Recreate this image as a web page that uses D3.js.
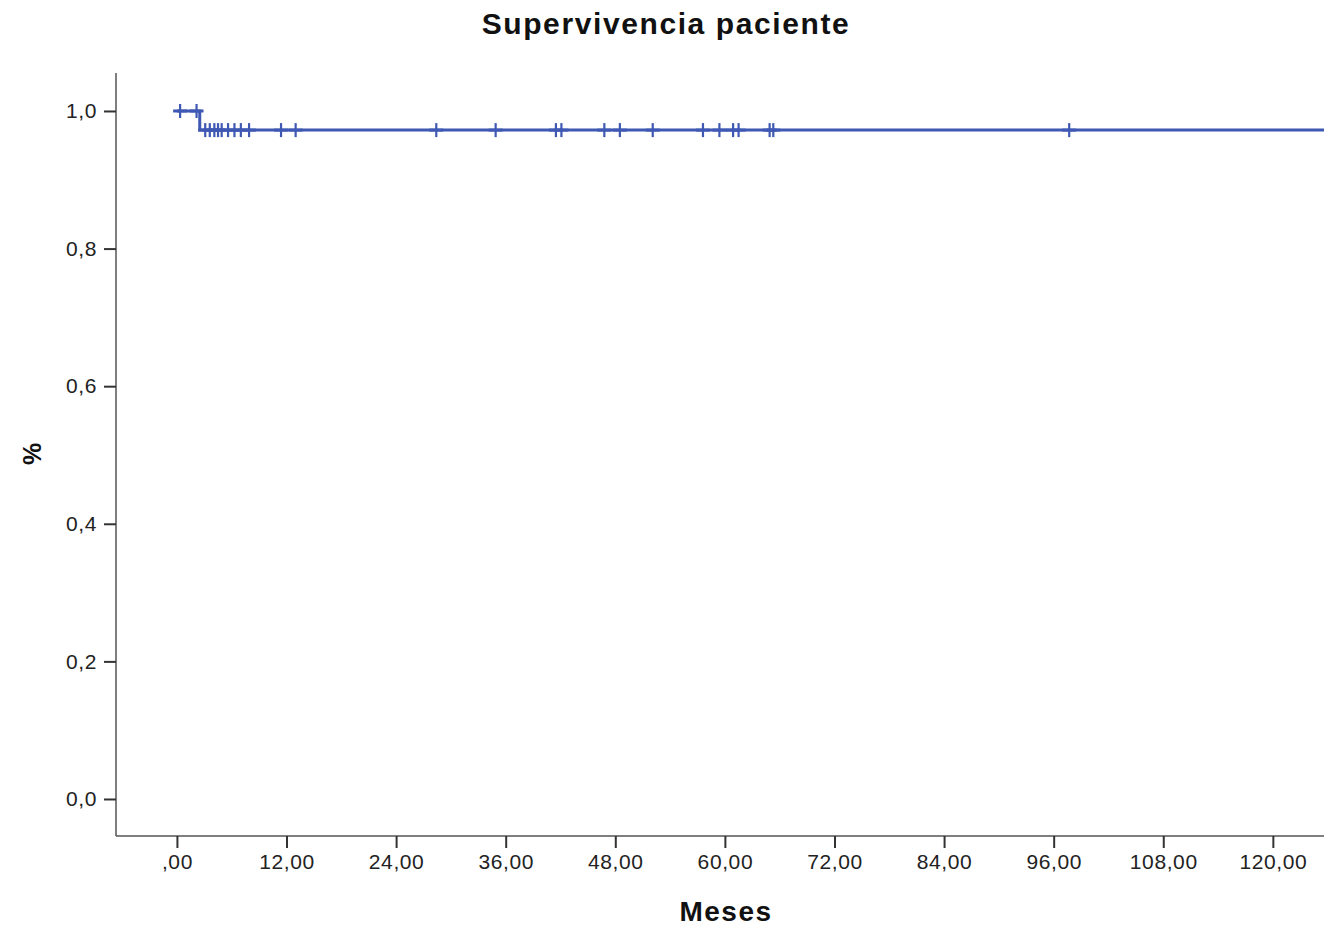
<!DOCTYPE html>
<html>
<head>
<meta charset="utf-8">
<script src="https://cdn.jsdelivr.net/npm/d3@7"></script>
<style>
  body { margin: 0; background: #fff; }
  svg { display: block; font-family: "Liberation Sans", Arial, sans-serif; }
</style>
</head>
<body>
<div id="chart"></div>
<script>
// Kaplan-Meier steps (months, survival)
const stepTimes = [0, 2.5, 140];
const stepSurv = [1.0, 0.9722, 0.9722];
// censored observations (months)
const censorTimes = [0.35, 2.15, 3.1, 3.6, 4.1, 4.5, 4.9, 5.6, 6.3, 7.0, 7.9, 11.4, 13.0,
  28.4, 34.9, 41.5, 42.1, 46.8, 48.5, 52.1, 57.6, 59.4, 60.9, 61.5, 64.9, 65.3, 97.7];
const xTicks = [0, 12, 24, 36, 48, 60, 72, 84, 96, 108, 120];
const yTicks = [0, 0.2, 0.4, 0.6, 0.8, 1.0];

const width = 1324, height = 928;
const MARGIN = { top: 73, right: 0, bottom: 92, left: 116 };
const innerW = width - MARGIN.left - MARGIN.right;
const innerH = height - MARGIN.top - MARGIN.bottom;
const BLUE = '#3f58b3';

const fmtX = d => d === 0 ? ',00' : d3.format('.2f')(d).replace('.', ',');
const fmtY = d => d3.format('.1f')(d).replace('.', ',');

const svg = d3.select('#chart').append('svg')
  .attr('width', width).attr('height', height);

const x = d3.scaleLinear().domain([-6.67, 125.6]).range([0, innerW]);
const y = d3.scaleLinear().domain([-0.0538, 1.0552]).range([innerH, 0]);

const g = svg.append('g').attr('transform', `translate(${MARGIN.left},${MARGIN.top})`);

svg.append('defs').append('clipPath').attr('id', 'plot-clip')
  .append('rect').attr('x', 0).attr('y', -10).attr('width', innerW).attr('height', innerH + 10);

// axes
const xAxisG = g.append('g').attr('transform', `translate(0,${innerH})`)
  .call(d3.axisBottom(x).tickValues(xTicks).tickFormat(fmtX).tickSize(12).tickSizeOuter(0).tickPadding(6));
const yAxisG = g.append('g')
  .call(d3.axisLeft(y).tickValues(yTicks).tickFormat(fmtY).tickSize(12).tickSizeOuter(0).tickPadding(7));

[xAxisG, yAxisG].forEach(axis => {
  axis.select('.domain').attr('stroke', '#555').attr('stroke-width', 1.5);
  axis.selectAll('.tick line').attr('stroke', '#333').attr('stroke-width', 2);
  axis.selectAll('text').attr('fill', '#222').style('font-size', '21px').style('letter-spacing', '0.6px');
});
xAxisG.select('.domain').attr('d', `M0,0H${innerW}`);
yAxisG.select('.domain').attr('d', `M0,0V${innerH}`);

// step curve
const steps = stepTimes.map((t, i) => [t, stepSurv[i]]);
const line = d3.line().curve(d3.curveStepAfter).x(d => x(d[0])).y(d => y(d[1]));
const plot = g.append('g').attr('clip-path', 'url(#plot-clip)');
plot.append('path').datum(steps)
  .attr('fill', 'none').attr('stroke', BLUE).attr('stroke-width', 3)
  .attr('d', line);

const survAt = t => {
  let s = stepSurv[0];
  stepTimes.forEach((st, i) => { if (st <= t) s = stepSurv[i]; });
  return s;
};

// censor marks (+)
const marks = plot.selectAll('g.censor').data(censorTimes).enter().append('g')
  .attr('class', 'censor')
  .attr('transform', d => `translate(${x(d)},${y(survAt(d))})`);
marks.append('line').attr('x1', 0).attr('x2', 0).attr('y1', -7).attr('y2', 7)
  .attr('stroke', BLUE).attr('stroke-width', 2.2);
marks.append('line').attr('x1', -7).attr('x2', 7).attr('y1', 0).attr('y2', 0)
  .attr('stroke', BLUE).attr('stroke-width', 3);

// titles
svg.append('text')
  .attr('x', 666).attr('y', 34)
  .attr('text-anchor', 'middle')
  .style('font-size', '30px').style('font-weight', 'bold').style('letter-spacing', '1.6px')
  .attr('fill', '#111')
  .text('Supervivencia paciente');

svg.append('text')
  .attr('x', 726).attr('y', 921)
  .attr('text-anchor', 'middle')
  .style('font-size', '28px').style('font-weight', 'bold').style('letter-spacing', '1.5px')
  .attr('fill', '#111')
  .text('Meses');

svg.append('text')
  .attr('transform', 'translate(41,454) rotate(-90)')
  .attr('text-anchor', 'middle')
  .style('font-size', '25px').style('font-weight', 'bold')
  .attr('fill', '#111')
  .text('%');
</script>
</body>
</html>
